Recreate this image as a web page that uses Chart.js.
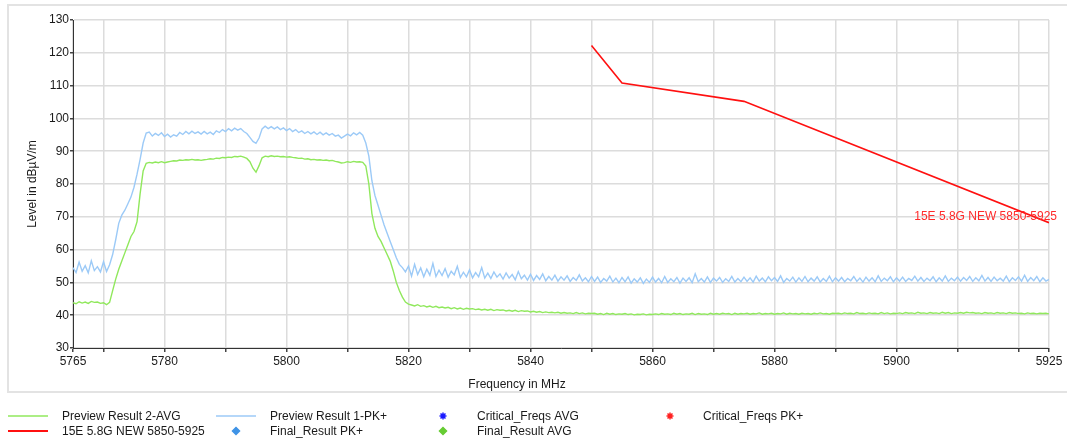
<!DOCTYPE html>
<html>
<head>
<meta charset="utf-8">
<script src="https://cdn.jsdelivr.net/npm/chart.js@4/dist/chart.umd.min.js"></script>
<style>
  html, body { margin: 0; padding: 0; background: #fff; }
  #wrap { width: 1067px; height: 438px; position: relative; }
</style>
</head>
<body>
<div id="wrap"><canvas id="chart"></canvas></div>
<script>
// sweep: 5765 MHz .. 5925 MHz, one reading every 0.5 MHz (10 readings per line = 5 MHz)
const freqStart = 5765;
const freqStep = 0.5;

const pkValues = [
  54.5, 53.0, 56.2, 53.4, 55.1, 52.9, 56.6, 53.6, 54.8, 53.2,
  56.3, 53.3, 55.4, 58.5, 63.0, 68.0, 70.5, 72.0, 74.0, 76.0,
  79.0, 83.0, 87.5, 92.5, 95.5, 95.8, 94.6, 95.4, 94.8, 95.6,
  94.5, 95.2, 94.3, 95.0, 94.6, 95.7, 95.1, 96.0, 95.3, 96.1,
  95.4, 95.9, 95.2, 96.0, 95.3, 95.8, 95.1, 96.2, 95.7, 96.6,
  96.0, 96.9, 96.2, 97.0, 96.4, 96.9, 96.0, 95.4, 94.2, 93.0,
  92.4, 94.0, 96.8, 97.6, 96.9, 97.5, 96.8, 97.4, 96.6, 97.1,
  96.3, 96.9, 96.0, 96.6, 95.7, 96.2, 95.4, 96.0, 95.3, 95.9,
  95.1, 95.8, 95.0, 95.6, 94.9, 95.4, 94.6, 94.9, 94.0, 94.6,
  95.2, 94.7, 95.6, 95.0, 95.7, 94.9, 92.5, 88.5, 81.0, 76.5,
  73.5, 70.5, 67.5, 65.0, 62.5, 60.0, 57.5, 55.5, 54.5, 53.2,
  55.0, 51.9, 55.5, 52.4, 54.4, 51.7, 54.0, 52.2, 55.8, 51.8,
  53.7, 52.1, 54.2, 51.6, 53.4, 52.3, 54.9, 51.5, 53.1, 51.7,
  53.8, 51.4, 53.0, 51.7, 54.5, 51.3, 52.8, 51.2, 53.2, 51.6,
  52.6, 51.0, 52.9, 51.3, 52.4, 50.8, 53.3, 51.1, 52.2, 50.7,
  52.5, 50.6, 52.1, 50.9, 52.6, 50.5, 51.8, 50.7, 52.2, 50.4,
  51.7, 50.7, 52.0, 50.3, 51.5, 50.6, 52.3, 50.4, 51.4, 50.2,
  51.8, 50.3, 51.6, 50.0, 51.2, 50.4, 51.9, 50.1, 51.3, 49.9,
  51.5, 50.2, 51.7, 49.8, 51.1, 50.1, 51.4, 49.7, 51.0, 50.0,
  51.6, 50.1, 51.2, 49.9, 51.8, 50.0, 51.1, 50.2, 51.5, 49.8,
  51.3, 50.3, 51.4, 49.9, 52.6, 50.2, 51.2, 50.1, 51.7, 50.0,
  51.3, 50.4, 51.5, 50.0, 51.1, 50.3, 51.8, 50.1, 51.2, 50.2,
  51.6, 50.3, 51.4, 50.1, 51.9, 50.4, 51.3, 50.2, 51.7, 50.5,
  51.5, 50.3, 52.0, 50.0, 51.2, 50.4, 51.6, 50.1, 51.4, 50.3,
  51.8, 50.2, 51.3, 50.4, 51.7, 50.1, 51.2, 50.3, 51.9, 50.2,
  51.4, 50.4, 51.5, 50.2, 51.2, 50.5, 51.8, 50.3, 51.3, 50.1,
  51.6, 50.4, 51.4, 50.2, 52.0, 50.3, 51.3, 50.5, 51.7, 50.2,
  51.4, 50.4, 51.6, 50.3, 51.2, 50.6, 51.9, 50.4, 51.5, 50.3,
  51.3, 50.5, 51.7, 50.2, 51.4, 50.4, 52.0, 50.3, 51.3, 50.5,
  51.6, 50.4, 51.5, 50.6, 51.8, 50.3, 51.4, 50.5, 52.1, 50.4,
  51.5, 50.3, 51.6, 50.5, 51.3, 50.4, 51.9, 50.2, 51.4, 50.6,
  51.7, 50.4, 52.2, 50.3, 51.5, 50.5, 51.8, 50.2, 51.4, 50.4,
  50.9
];

const avgValues = [
  43.8, 43.5, 44.1, 43.7, 44.0, 43.6, 44.2, 43.9, 44.0, 43.6,
  43.8, 43.2, 43.9, 47.5, 51.0, 54.0, 56.5, 59.0, 61.5, 64.0,
  65.5, 68.5, 77.0, 84.0, 86.3, 86.6, 86.4, 86.7, 86.5, 86.8,
  86.5, 86.7, 86.9, 87.1, 87.0, 87.3, 87.2, 87.4, 87.3, 87.5,
  87.3, 87.4, 87.2, 87.4, 87.5, 87.7, 87.6, 87.9, 87.8, 88.1,
  88.0, 88.2, 88.1, 88.4, 88.3, 88.5, 88.2, 87.8, 86.8, 84.8,
  83.6, 85.6, 88.0, 88.5, 88.3, 88.6, 88.4, 88.5, 88.3, 88.4,
  88.2, 88.3, 88.1, 88.0, 87.8, 87.9, 87.6, 87.7, 87.4, 87.5,
  87.3, 87.4, 87.2, 87.3, 87.1, 87.2, 86.9, 86.7, 86.4, 86.5,
  86.8, 86.6, 86.9, 86.7, 86.8, 86.6, 85.5, 80.0, 71.0, 66.5,
  64.0, 62.5, 60.5, 58.5, 56.5, 53.5, 50.0, 47.5, 45.5, 44.0,
  43.4, 43.1, 42.8, 43.2, 42.7, 42.9, 42.5, 42.8, 42.4, 42.7,
  42.3, 42.5, 42.2, 42.4, 42.0, 42.3, 41.9, 42.2, 41.8, 42.1,
  41.9, 42.0, 41.7, 41.9, 41.6, 41.8, 41.5, 41.8, 41.4, 41.7,
  41.5, 41.6, 41.3, 41.5, 41.2, 41.5, 41.1, 41.4, 41.2, 41.3,
  41.0, 41.2, 40.9, 41.1, 40.8, 41.0, 40.8, 40.9, 40.7, 40.9,
  40.6, 40.8, 40.6, 40.7, 40.5, 40.8, 40.5, 40.7, 40.4, 40.6,
  40.5, 40.6, 40.3, 40.5, 40.2, 40.6, 40.3, 40.5, 40.2, 40.4,
  40.3, 40.5, 40.2, 40.4, 40.1, 40.3, 40.2, 40.4, 40.1, 40.3,
  40.2, 40.4, 40.2, 40.5, 40.3, 40.4, 40.2, 40.6, 40.3, 40.5,
  40.2, 40.4, 40.3, 40.6, 40.2, 40.5, 40.3, 40.4, 40.2, 40.6,
  40.3, 40.5, 40.3, 40.6, 40.4, 40.5, 40.2, 40.6, 40.3, 40.5,
  40.4, 40.6, 40.3, 40.5, 40.4, 40.7, 40.3, 40.5, 40.4, 40.6,
  40.3, 40.5, 40.4, 40.7, 40.3, 40.6, 40.4, 40.5, 40.3, 40.6,
  40.4, 40.5, 40.3, 40.6, 40.4, 40.7, 40.4, 40.5, 40.3, 40.6,
  40.5, 40.6, 40.4, 40.7, 40.5, 40.6, 40.4, 40.8, 40.5, 40.6,
  40.4, 40.7, 40.5, 40.6, 40.4, 40.8, 40.5, 40.7, 40.4, 40.6,
  40.5, 40.7, 40.5, 40.8, 40.6, 40.7, 40.5, 40.9, 40.6, 40.7,
  40.5, 40.8, 40.6, 40.7, 40.5, 40.9, 40.6, 40.8, 40.5, 40.7,
  40.6, 40.8, 40.6, 40.9, 40.7, 40.8, 40.6, 40.7, 40.5, 40.8,
  40.6, 40.7, 40.5, 40.8, 40.6, 40.7, 40.5, 40.8, 40.6, 40.7,
  40.5, 40.6, 40.4, 40.7, 40.5, 40.6, 40.4, 40.6, 40.5, 40.6,
  40.4
];

// limit line 15E 5.8G NEW 5850-5925
const limitFreqs = [5850, 5855, 5875, 5925];
const limitValues = [122.2, 110.8, 105.2, 68.2];

const xTickValues = [5765, 5770, 5780, 5790, 5800, 5810, 5820, 5830, 5840, 5850, 5860,
                     5870, 5880, 5890, 5900, 5910, 5920, 5925];
const xTickLabels = [5765, 5780, 5800, 5820, 5840, 5860, 5880, 5900, 5925];
const yTickLabels = [30, 40, 50, 60, 70, 80, 90, 100, 110, 120, 130];

const FONT = '"Liberation Sans", Arial, sans-serif';

const toPoints = (vals) => vals.map((v, i) => ({x: freqStart + i * freqStep, y: v}));

const datasets = [{
    label: 'Preview Result 2-AVG',
    data: toPoints(avgValues),
    borderColor: '#90e85c',
    borderWidth: 1.4,
    pointRadius: 0,
    legendCol: 0, legendRow: 0, legendKind: 'line'
  },{
    label: '15E 5.8G NEW 5850-5925',
    data: limitFreqs.map((f, i) => ({x: f, y: limitValues[i]})),
    borderColor: '#ff1010',
    borderWidth: 1.6,
    pointRadius: 0,
    order: -1,
    legendCol: 0, legendRow: 1, legendKind: 'line'
  },{
    label: 'Preview Result 1-PK+',
    data: toPoints(pkValues),
    borderColor: '#9ccaf7',
    borderWidth: 1.4,
    pointRadius: 0,
    legendCol: 1, legendRow: 0, legendKind: 'line'
  },{
    label: 'Final_Result PK+',
    data: [],
    borderColor: '#3f93e6',
    backgroundColor: '#3f93e6',
    pointStyle: 'rectRot',
    pointRadius: 3.5,
    showLine: false,
    legendCol: 1, legendRow: 1, legendKind: 'point'
  },{
    label: 'Critical_Freqs AVG',
    data: [],
    borderColor: '#1a1aff',
    backgroundColor: '#1a1aff',
    pointStyle: 'star',
    pointRadius: 3.5,
    showLine: false,
    legendCol: 2, legendRow: 0, legendKind: 'point'
  },{
    label: 'Final_Result AVG',
    data: [],
    borderColor: '#66cc33',
    backgroundColor: '#66cc33',
    pointStyle: 'rectRot',
    pointRadius: 3.5,
    showLine: false,
    legendCol: 2, legendRow: 1, legendKind: 'point'
  },{
    label: 'Critical_Freqs PK+',
    data: [],
    borderColor: '#ff2020',
    backgroundColor: '#ff2020',
    pointStyle: 'star',
    pointRadius: 3.5,
    showLine: false,
    legendCol: 3, legendRow: 0, legendKind: 'point'
  }];

// legend column positions: [symbol x, text x]
const legendCols = [[28, 62], [236, 270], [443, 477], [670, 703]];
const legendRows = [416, 431];

const decor = {
  id: 'decor',
  beforeDraw(chart) {
    const ctx = chart.ctx;
    ctx.save();
    ctx.strokeStyle = '#e3e3e3';
    ctx.lineWidth = 2;
    ctx.strokeRect(8, 5, 1080, 387);
    ctx.restore();
  },
  afterDatasetsDraw(chart) {
    const ctx = chart.ctx;
    const y = chart.scales.y;
    ctx.save();
    ctx.font = '12px ' + FONT;
    ctx.fillStyle = '#ff2a2a';
    ctx.textAlign = 'right';
    ctx.textBaseline = 'middle';
    ctx.fillText('15E 5.8G NEW 5850-5925', 1057, y.getPixelForValue(70.1));
    ctx.restore();
  },
  afterDraw(chart) {
    const ctx = chart.ctx;
    const area = chart.chartArea;
    ctx.save();
    ctx.font = '12px ' + FONT;
    ctx.fillStyle = '#1a1a1a';
    ctx.textBaseline = 'middle';
    // axis titles
    ctx.textAlign = 'center';
    ctx.fillText('Frequency in MHz', 517, 385);
    ctx.save();
    ctx.translate(33, (area.top + area.bottom) / 2);
    ctx.rotate(-Math.PI / 2);
    ctx.fillText('Level in dB\u00b5V/m', 0, 0);
    ctx.restore();
    // legend
    ctx.textAlign = 'left';
    chart.data.datasets.forEach(ds => {
      const [sx, tx] = legendCols[ds.legendCol];
      const ly = legendRows[ds.legendRow];
      if (ds.legendKind === 'line') {
        ctx.strokeStyle = ds.borderColor;
        ctx.lineWidth = ds.borderWidth > 1.5 ? 2 : 1.5;
        ctx.beginPath();
        ctx.moveTo(sx - 20, ly);
        ctx.lineTo(sx + 20, ly);
        ctx.stroke();
      } else {
        ctx.fillStyle = ds.backgroundColor;
        ctx.strokeStyle = ds.borderColor;
        Chart.helpers.drawPoint(ctx, {
          pointStyle: ds.pointStyle, radius: ds.pointRadius, borderWidth: 1, rotation: 0
        }, sx, ly);
      }
      ctx.fillStyle = '#1a1a1a';
      ctx.fillText(ds.label, tx, ly + 0.5);
    });
    ctx.restore();
  }
};

new Chart(document.getElementById('chart'), {
  type: 'line',
  data: { datasets },
  plugins: [decor],
  options: {
    animation: false,
    responsive: true,
    maintainAspectRatio: false,
    parsing: false,
    normalized: true,
    layout: { padding: { left: 0, top: 20, right: 18, bottom: 0 } },
    plugins: {
      legend: { display: false },
      tooltip: { enabled: false },
      title: { display: false }
    },
    scales: {
      x: {
        type: 'linear',
        min: 5765,
        max: 5925,
        afterBuildTicks: (scale) => { scale.ticks = xTickValues.map(v => ({value: v})); },
        afterFit: (scale) => { scale.height = 90; },
        ticks: {
          autoSkip: false,
          maxRotation: 0,
          padding: 2,
          color: '#1a1a1a',
          font: { family: FONT, size: 12 },
          callback: (v) => xTickLabels.includes(v) ? String(v) : ''
        },
        grid: { color: '#dcdcdc', lineWidth: 1.5, tickColor: '#444', tickLength: 4 },
        border: { color: '#333', width: 1 }
      },
      y: {
        min: 30,
        max: 130,
        afterFit: (scale) => { scale.width = 73; },
        ticks: {
          stepSize: 5,
          padding: 1,
          color: '#1a1a1a',
          font: { family: FONT, size: 12 },
          callback: (v) => yTickLabels.includes(v) ? String(v) : ''
        },
        grid: { color: '#dcdcdc', lineWidth: 1.5, tickColor: '#444', tickLength: 3 },
        border: { color: '#333', width: 1 }
      }
    }
  }
});
</script>
</body>
</html>
